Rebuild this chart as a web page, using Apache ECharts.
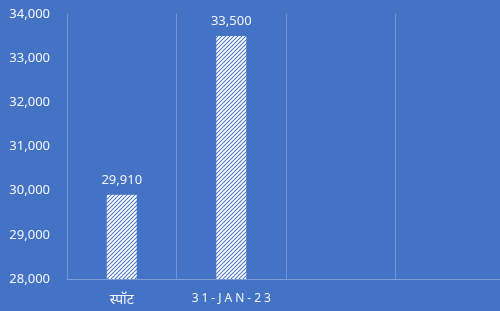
<!DOCTYPE html>
<html>
<head>
<meta charset="utf-8">
<script src="https://cdn.jsdelivr.net/npm/echarts@6/dist/echarts.min.js"></script>
<style>
  html, body { margin: 0; padding: 0; background: #4472c4; }
  #chart { width: 500px; height: 311px; }
</style>
</head>
<body>
<div id="chart"></div>
<script>
// categories and values
const categories = ['स्पॉट', '31-JAN-23', '', ''];
const prices = [29910, 33500, null, null];
const yTicks = [28000, 29000, 30000, 31000, 32000, 33000, 34000];

// hatch pattern for the bars (white diagonal stripes)
function makeHatch() {
  const s = 4;
  const c = document.createElement('canvas');
  c.width = s;
  c.height = s;
  const ctx = c.getContext('2d');
  ctx.fillStyle = '#4472c4';
  ctx.fillRect(0, 0, s, s);
  ctx.strokeStyle = '#ffffff';
  ctx.lineWidth = 1.9;
  ctx.beginPath();
  for (let k = -1; k <= 1; k++) {
    ctx.moveTo(k * s - 1, s + 1);
    ctx.lineTo(k * s + s + 1, -1);
  }
  ctx.stroke();
  return c;
}

const font = '"Noto Sans", "Open Sans", sans-serif';
const textColor = '#f4f6fb';
const lineColor = 'rgba(255,255,255,0.25)';

const chart = echarts.init(document.getElementById('chart'));
chart.setOption({
  backgroundColor: '#4472c4',
  animation: false,
  // plot area runs a little past the right edge, like the original
  grid: { left: 67, width: 438, top: 14, bottom: 32, outerBoundsMode: 'none' },
  xAxis: {
    type: 'category',
    data: categories,
    axisLine: { lineStyle: { color: 'rgba(255,255,255,0.3)', width: 1 } },
    axisTick: { show: false },
    splitLine: { show: true, lineStyle: { color: lineColor, width: 1 } },
    axisLabel: {
      color: textColor,
      fontFamily: font,
      fontSize: 12,
      margin: 14,
      // the date label is letter-spaced in the original
      formatter: (v) => /^[0-9A-Z-]+$/.test(v)
        ? v.split('').join('\u2005')
        : '{big|' + v + '}',
      rich: { big: { fontSize: 14, color: textColor, fontFamily: font } },
    },
  },
  yAxis: {
    type: 'value',
    min: yTicks[0],
    max: yTicks[yTicks.length - 1],
    interval: 1000,
    axisLine: { show: false },
    axisTick: { show: false },
    splitLine: { show: false },
    axisLabel: {
      color: textColor,
      fontFamily: font,
      fontSize: 13,
      margin: 17,
      formatter: (v) => v.toLocaleString('en-US'),
    },
  },
  series: [{
    type: 'bar',
    data: prices,
    barWidth: 30,
    itemStyle: { color: { image: makeHatch(), repeat: 'repeat' } },
    label: {
      show: true,
      position: 'top',
      distance: 8,
      color: textColor,
      fontFamily: font,
      fontSize: 13,
      formatter: (p) => p.value.toLocaleString('en-US'),
    },
  }],
});
</script>
</body>
</html>
